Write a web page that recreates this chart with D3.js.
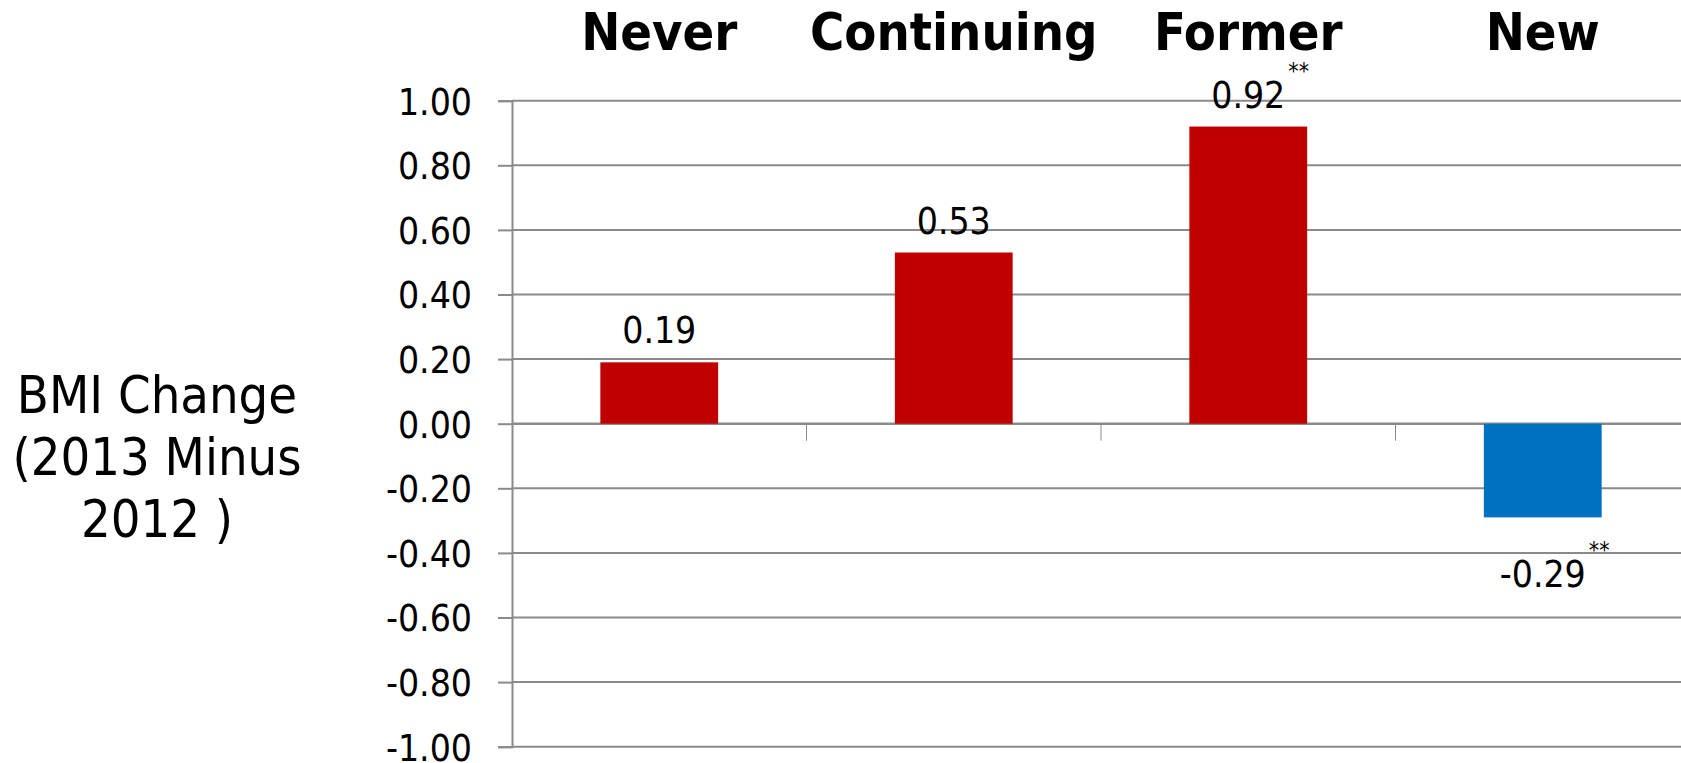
<!DOCTYPE html>
<html>
<head>
<meta charset="utf-8">
<script src="https://cdn.jsdelivr.net/npm/d3@7"></script>
<style>
  html, body { margin: 0; padding: 0; background: #ffffff; }
  svg { display: block; }
  .num { font-family: "DejaVu Sans Condensed", "DejaVu Sans", sans-serif; font-stretch: condensed; fill: #000; }
  .cat { font-family: "DejaVu Sans Condensed", "DejaVu Sans", sans-serif; font-stretch: condensed; font-weight: bold; fill: #000; }
</style>
</head>
<body>
<svg id="chart" width="1681" height="763"></svg>
<script>
// BMI change between 2012 and 2013 by group
const categories = ["Never", "Continuing", "Former", "New"];
const bmiChange = [0.19, 0.53, 0.92, -0.29];
const significance = ["", "", "**", "**"];
const yTickValues = [-1.0, -0.8, -0.6, -0.4, -0.2, 0.0, 0.2, 0.4, 0.6, 0.8, 1.0];
const yTitleLines = ["BMI Change", "(2013 Minus", "2012 )"];

const W = 1681, H = 763;
const plot = { left: 512, right: 1690, top: 100.7, bottom: 746.7 };
const gridColor = "#8a8a8a";
const posColor = "#c00000";
const negColor = "#0070c0";

const fmt = d3.formatLocale({ decimal: ".", thousands: ",", grouping: [3], currency: ["$", ""], minus: "-" }).format(".2f");

const svg = d3.select("#chart");

const x = d3.scaleBand().domain(categories).range([plot.left, plot.right]).padding(0);
const y = d3.scaleLinear().domain([-1, 1]).range([plot.bottom, plot.top]);

// horizontal gridlines
svg.append("g")
  .selectAll("line")
  .data(yTickValues)
  .join("line")
  .attr("x1", plot.left)
  .attr("x2", W)
  .attr("y1", d => y(d))
  .attr("y2", d => y(d))
  .attr("stroke", gridColor)
  .attr("stroke-width", d => d === 0 ? 2.5 : 2);

// value axis with tick labels
const yAxis = svg.append("g")
  .attr("transform", `translate(${plot.left},0)`)
  .call(d3.axisLeft(y).tickValues(yTickValues).tickFormat(fmt).tickSize(14).tickPadding(26));
yAxis.select(".domain").attr("stroke", gridColor).attr("stroke-width", 2);
yAxis.selectAll(".tick line").attr("stroke", gridColor).attr("stroke-width", 2);
yAxis.selectAll(".tick text")
  .attr("class", "num")
  .attr("font-size", 37)
  .attr("dy", "0.36em");

// category separators below the zero line
svg.append("g")
  .selectAll("line")
  .data(categories.slice(1))
  .join("line")
  .attr("x1", d => x(d))
  .attr("x2", d => x(d))
  .attr("y1", y(0))
  .attr("y2", y(0) + 17)
  .attr("stroke", gridColor)
  .attr("stroke-width", 1);

// bars
const bw = x.bandwidth() * 0.4;
svg.append("g")
  .selectAll("rect")
  .data(categories)
  .join("rect")
  .attr("x", d => x(d) + (x.bandwidth() - bw) / 2)
  .attr("width", bw)
  .attr("y", (d, i) => Math.min(y(bmiChange[i]), y(0)))
  .attr("height", (d, i) => Math.abs(y(bmiChange[i]) - y(0)))
  .attr("fill", (d, i) => bmiChange[i] >= 0 ? posColor : negColor);

// category labels across the top
svg.append("g")
  .selectAll("text")
  .data(categories)
  .join("text")
  .attr("class", "cat")
  .attr("font-size", 52)
  .attr("text-anchor", "middle")
  .attr("x", d => x(d) + x.bandwidth() / 2)
  .attr("y", 50)
  .text(d => d);

// value labels and significance markers
const labels = svg.append("g");
categories.forEach((c, i) => {
  const v = bmiChange[i];
  const cx = x(c) + x.bandwidth() / 2;
  const by = v >= 0 ? y(v) - 19 : y(v) + 70;
  const t = labels.append("text")
    .attr("class", "num")
    .attr("font-size", 37)
    .attr("text-anchor", "middle")
    .attr("x", cx)
    .attr("y", by)
    .text(fmt(v));
  if (significance[i]) {
    const len = t.node().getComputedTextLength();
    labels.append("text")
      .attr("class", "num")
      .attr("font-size", 23)
      .attr("x", cx + len / 2 + 3)
      .attr("y", by - 29)
      .text(significance[i]);
  }
});

// value axis title
svg.append("text")
  .attr("class", "num")
  .attr("font-size", 52)
  .attr("text-anchor", "middle")
  .selectAll("tspan")
  .data(yTitleLines)
  .join("tspan")
  .attr("x", 157)
  .attr("y", (d, i) => 413 + i * 62)
  .text(d => d);
</script>
</body>
</html>
